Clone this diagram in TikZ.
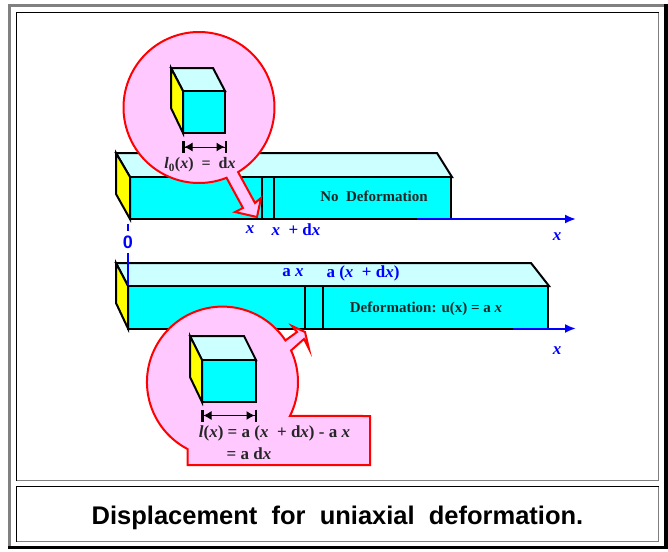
\documentclass[tikz,border=0pt]{standalone}
\usepackage{fontspec}
\setmainfont{Liberation Serif}
\newfontfamily\capfont{Liberation Sans}
\usetikzlibrary{arrows.meta,calc}
\definecolor{pinkfill}{RGB}{255,200,255}
\definecolor{lightcy}{RGB}{204,255,255}
\definecolor{cyanf}{RGB}{0,255,255}
\definecolor{yellowf}{RGB}{255,255,0}
\definecolor{framegray}{RGB}{128,128,128}
\newcommand{\ix}{\textit{x}}
\newcommand{\il}{\textit{l}}
\tikzset{
  edge/.style={draw=black,line width=2pt,line join=miter},
  topface/.style={edge,fill=lightcy},
  frontface/.style={edge,fill=cyanf},
  sideface/.style={edge,fill=yellowf},
  divider/.style={draw=black,line width=2pt},
  callout/.style={draw=red,line width=2pt,fill=pinkfill,line join=miter},
  axisline/.style={draw=blue,line width=2pt,-{Latex[length=11pt,width=9pt]}},
  bluelabel/.style={text=blue,font=\fontsize{17}{17}\selectfont\bfseries,inner sep=0pt},
  blacklabel/.style={text=black!85,font=\fontsize{15}{15}\selectfont\bfseries,inner sep=0pt},
  dimline/.style={draw=black,line width=1pt,{Bar[width=12pt,line width=2.5pt]Latex[length=8pt,width=9pt]}-{Latex[length=8pt,width=9pt]Bar[width=12pt,line width=2.5pt]}}
}
\begin{document}
\begin{tikzpicture}[x=1pt,y=1pt,yscale=-1]
\useasboundingbox (0,0) rectangle (668,551);
\fill[white] (0,0) rectangle (668,551);
% outer frame
\fill[framegray] (8,4) rectangle (664,7);
\fill[framegray] (8,4) rectangle (11,549);
\fill[black] (664,4) rectangle (667.5,549);
\fill[black] (8,546) rectangle (667.5,549);
% inner frames
\draw[framegray,line width=1pt] (16.5,480.5) -- (658.5,480.5) -- (658.5,12.5);
\draw[black,line width=1pt] (16.5,480.5) -- (16.5,12.5) -- (658.5,12.5);
\draw[framegray,line width=1pt] (16.5,541.5) -- (658.5,541.5) -- (658.5,486.5);
\draw[black,line width=1pt] (16.5,541.5) -- (16.5,486.5) -- (658.5,486.5);
% top beam
\path[topface] (116,153) -- (437,153) -- (452,177) -- (130,177) -- cycle;
\path[frontface] (130,177) rectangle (451,219);
\path[sideface] (116,153) -- (130,177) -- (130,219) -- (116,194) -- cycle;
\draw[divider] (262,177) -- (262,219);
\draw[divider] (274,177) -- (274,219);
\coordinate (axisAstart) at (417,219);
\coordinate (axisAend) at (576,219);
\draw[axisline] (axisAstart) -- (axisAend);
% zero marks
\coordinate (tickA) at (128,224);
\coordinate (tickB) at (128,231);
\coordinate (tickC) at (128,253);
\coordinate (tickD) at (128,285);
% bottom beam
\path[topface] (116,263) -- (531,263) -- (549,286) -- (128,286) -- cycle;
\path[frontface] (128,286) rectangle (548,328.5);
\path[sideface] (116,263) -- (128,286) -- (128,328.5) -- (116,303) -- cycle;
\draw[divider] (305,286) -- (305,328.5);
\draw[divider] (323,286) -- (323,328.5);
\coordinate (axisBstart) at (513,328.5);
\coordinate (axisBend) at (576,328.5);
\draw[axisline] (axisBstart) -- (axisBend);
\draw[draw=blue,line width=2pt] (tickA) -- (tickB);
\draw[draw=blue,line width=2pt] (tickC) -- (tickD);
% top callout
\coordinate (cA) at (199,107.5);
\path[callout] ([shift={(68.6:75.5)}]cA) arc[start angle=68.6,end angle=418.8,radius=75.5]
  -- (255,203) -- (261,198) -- (257,217) -- (235,212) -- (243,208) -- cycle;
% top cube
\path[topface] (171,68) -- (213,68) -- (225,91) -- (183,91) -- cycle;
\path[frontface] (183,91) rectangle (225,133);
\path[sideface] (171,68) -- (183,91) -- (183,133) -- (171,108) -- cycle;
\coordinate (dimAl) at (182,147);
\coordinate (dimAr) at (227,147);
\draw[dimline] (dimAl) -- (dimAr);
% bottom callout
\coordinate (cB) at (222.5,382);
\path[callout] ([shift={(-24.7:75.5)}]cB) arc[start angle=-24.7,end angle=26.7,radius=75.5]
  -- (370,416) -- (370,465) -- (187.5,465) -- (187.5,449)
  arc[start angle=117.6,end angle=326.5,radius=75.5]
  -- (297,332) -- (292,326) -- (305,332) -- (309,349) -- (304,339) -- cycle;
% bottom cube
\path[topface] (190,336) -- (244,336) -- (256,360) -- (202,360) -- cycle;
\path[frontface] (202,360) rectangle (256,402);
\path[sideface] (190,336) -- (202,360) -- (202,402) -- (190,377) -- cycle;
\coordinate (dimBl) at (201,415.5);
\coordinate (dimBr) at (257,415.5);
\draw[dimline] (dimBl) -- (dimBr);
% labels
\node[blacklabel,font=\fontsize{16}{16}\selectfont\bfseries] (lzero) at (200,165) {\il\textsubscript{0}(\ix)\ \ =\ \ d\ix};
\node[blacklabel] (nodef) at (374,196) {No\ \ Deformation};
\node[bluelabel] (xa) at (250,230) {\ix};
\node[bluelabel] (xdxa) at (296,230) {\ix\ \ +\ d\ix};
\node[bluelabel] (xaxA) at (557,237) {\ix};
\node[text=blue,font=\capfont\fontsize{18}{18}\selectfont\bfseries,inner sep=0pt] (zero) at (128,242) {0};
\node[bluelabel] (ax) at (293,273) {a \ix};
\node[bluelabel] (axdx) at (363,273) {a (\ix\ \ +\ d\ix)};
\node[blacklabel] (defo) at (426,309) {Deformation: u(x) = a \ix};
\node[bluelabel] (xaxB) at (557,351) {\ix};
\node[blacklabel,font=\fontsize{17}{17}\selectfont\bfseries] (eqa) at (274.5,433) {\il(\ix) = a (\ix\ \ + d\ix) - a \ix};
\node[blacklabel,font=\fontsize{17}{17}\selectfont\bfseries] (eqb) at (249,454) {= a d\ix};
\node[font=\capfont\fontsize{25.5}{26}\selectfont\bfseries,inner sep=0pt] (cap) at (337.5,517.5) {Displacement\ \ for\ \ uniaxial\ \ deformation.};
\end{tikzpicture}
\end{document}
